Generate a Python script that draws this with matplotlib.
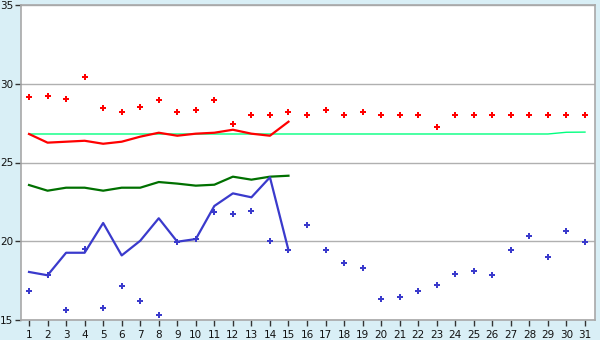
import matplotlib
matplotlib.use("Agg")
import matplotlib.pyplot as plt

days = list(range(1, 32))
days15 = list(range(1, 16))

red_points = [29.14, 29.2, 29.01, 30.4, 28.44, 28.19, 28.5, 29.0, 28.19, 28.33,
              29.0, 27.42, 28.0, 28.0, 28.19, 28.0, 28.31, 28.0, 28.19, 28.0,
              28.0, 28.0, 27.23, 28.0, 28.0, 28.0, 28.0, 28.0, 28.0, 28.0, 28.0]
red_line = [26.81, 26.26, 26.32, 26.38, 26.19, 26.32, 26.64, 26.89, 26.70, 26.83,
            26.89, 27.08, 26.83, 26.70, 27.59]
green_line = [26.81] * 29 + [26.92, 26.93]
dkgreen_line = [23.57, 23.21, 23.40, 23.40, 23.21, 23.40, 23.40, 23.76, 23.66, 23.53,
                23.59, 24.10, 23.91, 24.10, 24.16]
blue_line = [18.05, 17.84, 19.27, 19.27, 21.16, 19.10, 20.03, 21.46, 19.97, 20.14,
             22.24, 23.04, 22.79, 24.06, 19.43]
blue_points = [16.82, 17.84, 15.62, 19.49, 15.74, 17.14, 16.19, 15.30, 19.97, 20.16,
               21.84, 21.73, 21.90, 20.0, 19.43, 21.01, 19.43, 18.6, 18.28, 16.32,
               16.44, 16.82, 17.2, 17.9, 18.09, 17.84, 19.43, 20.32, 18.98, 20.63, 19.93]

bg = "#d9eff6"
fig = plt.figure(figsize=(6, 3.4), dpi=100, facecolor=bg)
ax = fig.add_axes([20.5/600, 20/340, (595-20.5)/600, 315/340])
ax.set_facecolor("white")

ax.plot(days, green_line, color="#00ff7f", lw=1.0, zorder=2)
ax.plot(days15, red_line, color="#ff0000", lw=1.6, zorder=3)
ax.plot(days15, dkgreen_line, color="#007000", lw=1.6, zorder=3)
ax.plot(days15, blue_line, color="#3a3acc", lw=1.6, zorder=3)
ax.plot(days, red_points, ls="none", marker="P", ms=5, color="#ff0000",
        markeredgewidth=0, zorder=4)
ax.plot(days, blue_points, ls="none", marker="P", ms=4.5, color="#3a3acc",
        markeredgewidth=0, zorder=4)

ax.set_xlim(0.54, 31.54)
ax.set_ylim(15, 35)
ax.set_xticks(days)
ax.set_yticks([15, 20, 25, 30, 35])
ax.grid(axis="y", color="#b0b0b0", lw=1)
ax.set_axisbelow(True)
for s in ax.spines.values():
    s.set_color("#a8a8a8")
    s.set_linewidth(1.2)
ax.tick_params(axis="both", labelsize=7.5, length=4, width=1, color="#333333",
               labelcolor="#111111")
ax.tick_params(axis="y", pad=1)
ax.tick_params(axis="x", pad=3)

fig.savefig("out.png", dpi=100, facecolor=bg)
